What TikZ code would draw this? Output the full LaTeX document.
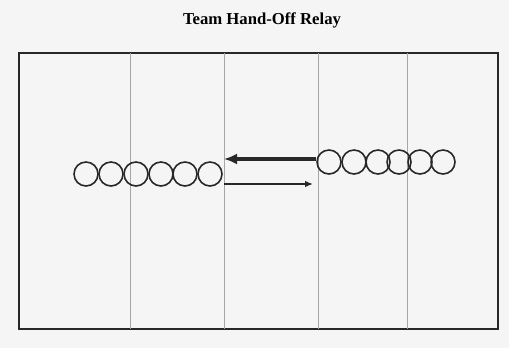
\documentclass[tikz,border=0pt]{standalone}
\usepackage{fontspec}
\setmainfont{Liberation Serif}
\usetikzlibrary{arrows.meta, positioning}

\definecolor{paper}{RGB}{245,245,245}
\definecolor{ink}{RGB}{40,40,40}

\begin{document}
\begin{tikzpicture}[
        x=0.02cm, y=-0.02cm,
        runner/.style={circle, draw=ink, line width=0.9pt, minimum size=0.48cm, inner sep=0pt},
        lane/.style={draw=gray!70, line width=0.5pt},
        handoff/.style={-{Latex[length=2.6mm, width=2.2mm]}, line width=1.8pt, ink},
        return/.style={-{Latex[length=1.6mm, width=1.3mm]}, line width=0.8pt, ink}
    ]
        \fill[paper] (0,0) rectangle (509,348);
        \useasboundingbox (0,0) rectangle (509,348);
        \node[font=\bfseries\fontsize{9.5}{11}\selectfont] (title) at (262,20) {Team Hand-Off Relay};
        % field
        \draw[ink, line width=1.4pt] (19,53) rectangle (498,329);
        \draw[lane] (130,53) -- (130,329);
        \draw[lane] (224,53) -- (224,329);
        \draw[lane] (318,53) -- (318,329);
        \draw[lane] (407,53) -- (407,329);
        % left team
        \node[runner] (l1) at (86,174) {};
        \node[runner] (l2) at (111,174) {};
        \node[runner] (l3) at (136,174) {};
        \node[runner] (l4) at (161,174) {};
        \node[runner] (l5) at (185,174) {};
        \node[runner] (l6) at (210,174) {};
        % right team
        \node[runner] (r1) at (329,162) {};
        \node[runner] (r2) at (354,162) {};
        \node[runner] (r3) at (378,162) {};
        \node[runner] (r4) at (399,162) {};
        \node[runner] (r5) at (420,162) {};
        \node[runner] (r6) at (443,162) {};
        % passes
        \coordinate (passA) at (224,159);
        \coordinate (passB) at (224,184);
        \coordinate (recvB) at (313,184);
        \draw[handoff] (r1.west |- passA) -- (passA);
        \draw[return] (passB) -- (recvB);
    \end{tikzpicture}
\end{document}
